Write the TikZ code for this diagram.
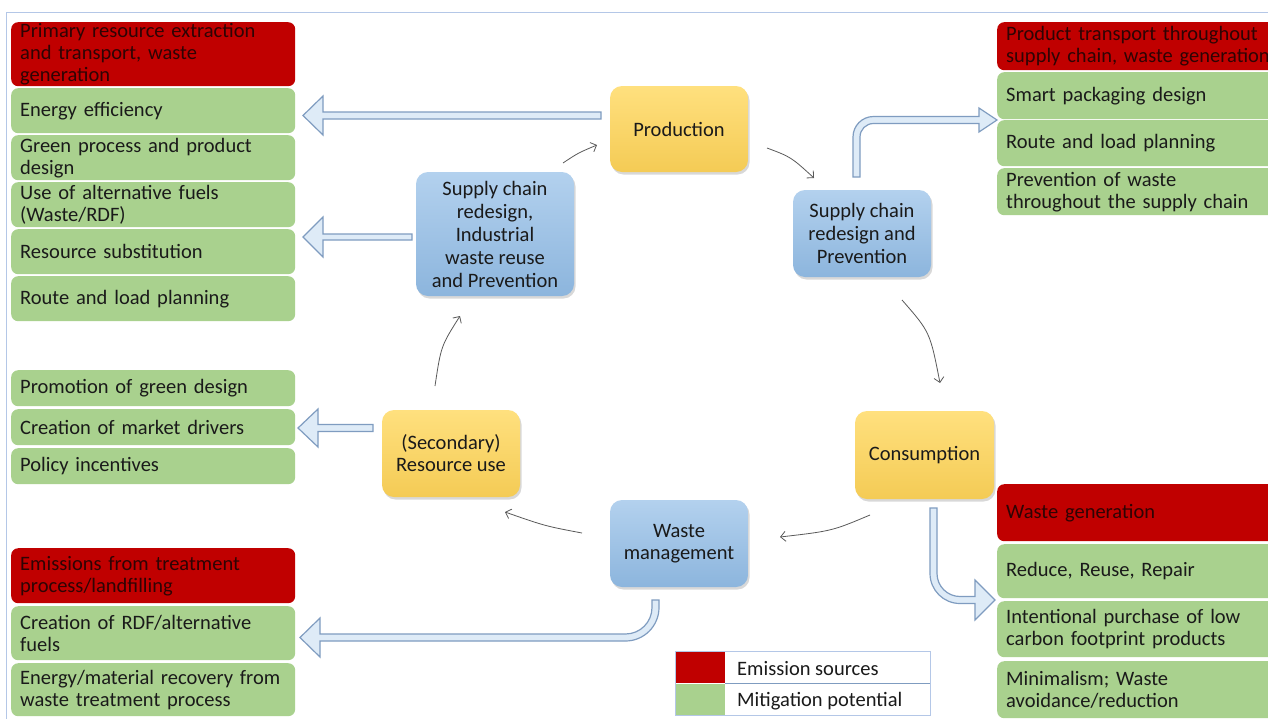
\documentclass[tikz,border=0pt]{standalone}
\usepackage{fontspec}
\setmainfont{Carlito}
\usetikzlibrary{arrows.meta,shadows,calc}
\definecolor{redc}{HTML}{C00000}
\definecolor{redtxt}{HTML}{2E0404}
\definecolor{greenc}{HTML}{A9D18E}
\definecolor{txtc}{HTML}{1A1A1A}
\definecolor{yeltop}{HTML}{FFE07E}
\definecolor{yelbot}{HTML}{F4CB55}
\definecolor{bluetop}{HTML}{B3D1EE}
\definecolor{bluebot}{HTML}{8CB5DD}
\definecolor{arrfill}{HTML}{DEEBF7}
\definecolor{arrdraw}{HTML}{7F9CC0}
\definecolor{framec}{HTML}{B4C7E7}
\definecolor{flowc}{HTML}{5A5A5A}
\tikzset{
  lbox/.style={rounded corners=7pt, anchor=north west, inner xsep=9pt, inner ysep=0pt,
    text width=266pt, minimum height=#1, align=left, text=txtc, fill=greenc},
  rbox/.style={lbox=#1, text width=272pt},
  emis/.style={fill=redc, text=redtxt},
  cnode/.style={rounded corners=12pt, inner sep=0pt, align=center, text=txtc,
    drop shadow={shadow xshift=1.5pt, shadow yshift=-2.5pt, opacity=0.3}},
  yel/.style={cnode, top color=yeltop, bottom color=yelbot},
  blu/.style={cnode, top color=bluetop, bottom color=bluebot},
  barrow/.style={fill=arrfill, draw=arrdraw, line width=1.2pt, line join=miter},
  flow/.style={draw=flowc, line width=0.8pt, -{Straight Barb[length=5pt,width=10pt]}},
}
\begin{document}
\begin{tikzpicture}[x=1pt, y=-1pt, font=\fontsize{20.5}{22}\selectfont]
\clip (0,0) rectangle (1268,718);
\fill[white] (0,0) rectangle (1268,718);
% frame
\draw[framec, line width=1pt] (6,720) -- (6,12) -- (1270,12);

% left column (production)
\node[lbox=64, emis] (L1) at (11,22) {Primary resource extraction\\and transport, waste\\generation};
\node[lbox=45] (L2) at (11,88) {Energy efficiency};
\node[lbox=45] (L3) at (11,135) {Green process and product\\design};
\node[lbox=45] (L4) at (11,182) {Use of alternative fuels\\(Waste/RDF)};
\node[lbox=45] (L5) at (11,229) {Resource substitution};
\node[lbox=45] (L6) at (11,276) {Route and load planning};

% left middle (secondary resource use)
\node[lbox=36] (M1) at (11,370) {Promotion of green design};
\node[lbox=36] (M2) at (11,409) {Creation of market drivers};
\node[lbox=36] (M3) at (11,448) {Policy incentives};

% bottom left (waste management)
\node[lbox=55, emis] (B1) at (11,548) {Emissions from treatment\\process/landfilling};
\node[lbox=54] (B2) at (11,606) {Creation of RDF/alternative\\fuels};
\node[lbox=53] (B3) at (11,663) {Energy/material recovery from\\waste treatment process};

% top right (supply chain)
\node[rbox=48, emis] (R1) at (997,22) {Product transport throughout\\supply chain, waste generation};
\node[rbox=47] (R2) at (997,72) {Smart packaging design};
\node[rbox=46] (R3) at (997,120) {Route and load planning};
\node[rbox=47] (R4) at (997,168) {Prevention of waste\\throughout the supply chain};

% bottom right (consumption)
\node[rbox=57, emis] (C1) at (997,484) {Waste generation};
\node[rbox=54] (C2) at (997,544) {Reduce, Reuse, Repair};
\node[rbox=56] (C3) at (997,601) {Intentional purchase of low\\carbon footprint products};
\node[rbox=57] (C4) at (997,661) {Minimalism; Waste\\avoidance/reduction};

% centre cycle
\node[yel, minimum width=138, minimum height=86] (prod) at (679,129) {Production};
\node[blu, minimum width=138, minimum height=87, font=\fontsize{20.5}{23}\selectfont] (scR) at (862,233.5) {Supply chain\\redesign and\\Prevention};
\node[blu, minimum width=158, minimum height=124, font=\fontsize{20.5}{23}\selectfont] (scL) at (495,234) {Supply chain\\redesign,\\Industrial\\waste reuse\\and Prevention};
\node[yel, minimum width=138, minimum height=87] (sec) at (451,453.5) {(Secondary)\\Resource use};
\node[yel, minimum width=139, minimum height=88] (cons) at (924.5,455) {Consumption};
\node[blu, minimum width=138, minimum height=87] (waste) at (679,543.5) {Waste\\management};

% thin cycle arrows
\coordinate (f1s) at (563,163); \coordinate (f1e) at (597,145);
\coordinate (f2s) at (767,148); \coordinate (f2e) at (814,178);
\coordinate (f3s) at (902,300); \coordinate (f3e) at (940,383);
\coordinate (f4s) at (870,515); \coordinate (f4e) at (780,537);
\coordinate (f5s) at (582,533); \coordinate (f5e) at (505,512);
\coordinate (f6s) at (435,386); \coordinate (f6e) at (460,316);
\draw[flow] (f1s) .. controls (578,153) .. (f1e);
\draw[flow] (f2s) .. controls (791,157) .. (f2e);
\draw[flow] (f3s) .. controls (930,332) .. (f3e);
\draw[flow] (f4s) .. controls (832,531) .. (f4e);
\draw[flow] (f5s) .. controls (545,526) .. (f5e);
\draw[flow] (f6s) .. controls (441,346) .. (f6e);

% block arrows
% production -> left column
\draw[barrow] (601,112) -- (323,112) -- (323,96) -- (303,115.5) -- (323,135) -- (323,119) -- (601,119) -- cycle;
% supply chain (left) -> left column
\draw[barrow] (412,234) -- (323,234) -- (323,217) -- (303,237) -- (323,257) -- (323,240) -- (412,240) -- cycle;
% secondary resource use -> middle column
\draw[barrow] (373,424.5) -- (318,424.5) -- (318,409) -- (298,428) -- (318,447) -- (318,431.5) -- (373,431.5) -- cycle;
% waste management -> bottom left column
\draw[barrow] (652,600) -- (652,607.5) arc[start angle=0, end angle=90, radius=26.5]
  -- (320,634) -- (320,618) -- (300,637.5) -- (320,657) -- (320,641) -- (625.5,641)
  arc[start angle=90, end angle=0, radius=33.5] -- (659,600) -- cycle;
% supply chain (right) -> top right column
\draw[barrow] (853,177) -- (853,137) arc[start angle=180, end angle=270, radius=20.5]
  -- (979,116.5) -- (979,108) -- (997,120) -- (979,132) -- (979,123.5) -- (873.5,123.5)
  arc[start angle=270, end angle=180, radius=13.5] -- (860,177) -- cycle;
% consumption -> bottom right column
\draw[barrow] (930,508) -- (930,573.5) arc[start angle=180, end angle=90, radius=30]
  -- (975,603.5) -- (975,620) -- (995,600) -- (975,580) -- (975,596.5) -- (960,596.5)
  arc[start angle=90, end angle=180, radius=23] -- (937,508) -- cycle;

% legend
\node[fill=redc, inner sep=0, minimum width=50, minimum height=31, anchor=north west] (legR) at (675,652) {};
\node[fill=greenc, inner sep=0, minimum width=50, minimum height=31, anchor=north west] (legG) at (675,684) {};
\node[anchor=west, inner sep=0, text=txtc] (legRt) at (737,669) {Emission sources};
\node[anchor=west, inner sep=0, text=txtc] (legGt) at (737,701) {Mitigation potential};
\draw[framec, line width=0.8pt] (675,651) rectangle (930,715);
\draw[arrdraw, line width=0.8pt] (725,683.5) -- (930,683.5);
\end{tikzpicture}
\end{document}
